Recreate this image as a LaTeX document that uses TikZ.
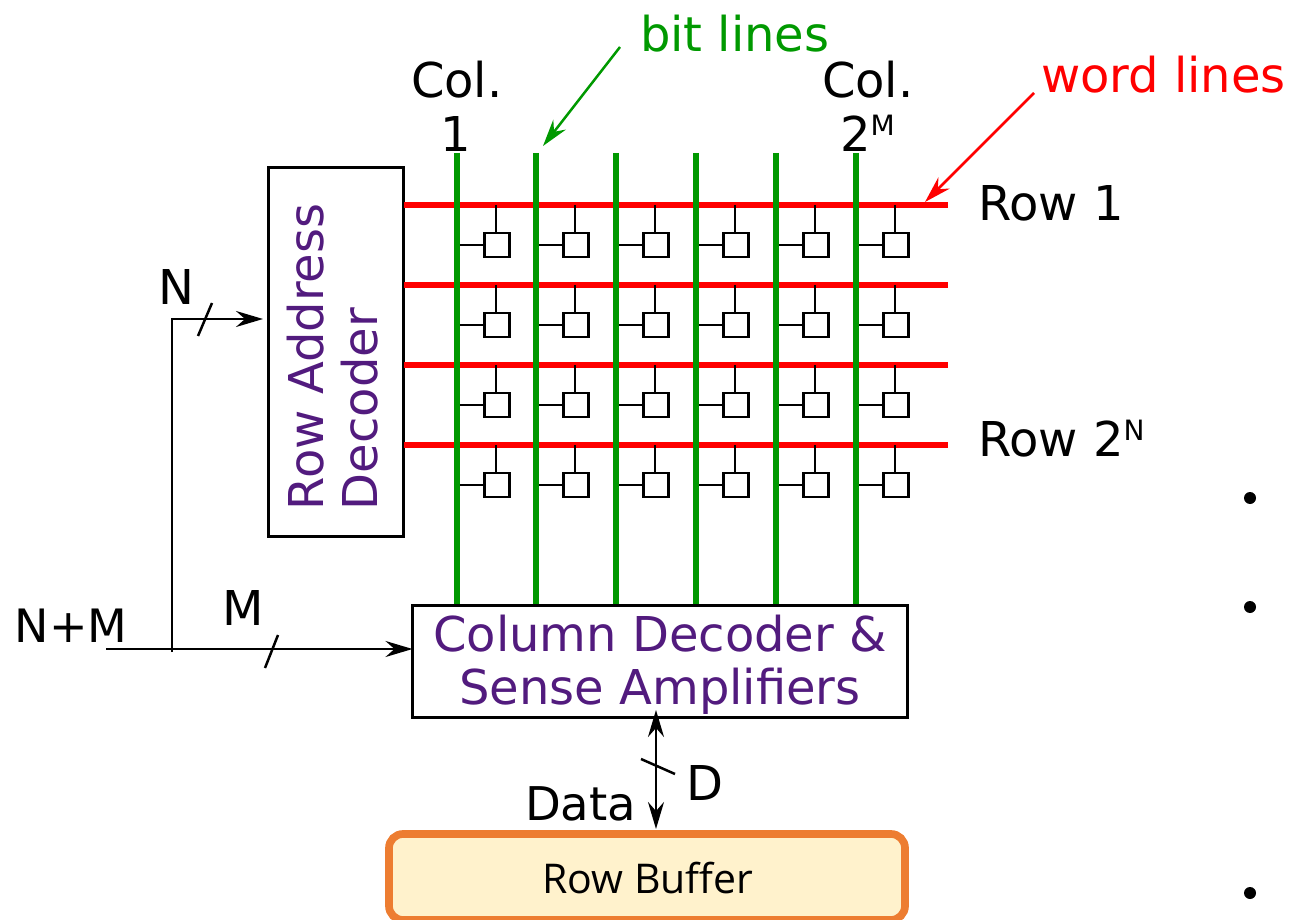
\documentclass[tikz,border=0pt]{standalone}
\usepackage{fontspec}
\setmainfont{DejaVu Sans}
\newfontfamily\rbfont{Open Sans}
\usetikzlibrary{arrows.meta}
\definecolor{bitgreen}{HTML}{009900}
\definecolor{wordred}{HTML}{FF0000}
\definecolor{decpurple}{HTML}{521B7E}
\definecolor{rborange}{HTML}{ED7D31}
\definecolor{rbfill}{HTML}{FFF2CC}
\newcommand{\px}[1]{\fontsize{#1}{#1}\selectfont}
\newcommand{\pxl}[2]{\fontsize{#1}{#2}\selectfont}
\tikzset{
  x=1pt,y=-1pt,
  lbl/.style={inner sep=0pt,outer sep=0pt,anchor=base west,font=\px{48}},
  bitline/.style={draw=bitgreen,line width=6pt},
  wordline/.style={draw=wordred,line width=6pt},
  wire/.style={draw=black,line width=2.5pt},
  tip/.style={-{Stealth[length=27pt,width=16pt,inset=9pt]}},
  bothtip/.style={{Stealth[length=27pt,width=16pt,inset=9pt]}-{Stealth[length=27pt,width=16pt,inset=9pt]}},
  cell/.style={draw=black,line width=2.5pt,fill=white,minimum width=25pt,minimum height=24pt,inner sep=0pt,outer sep=0pt},
  decbox/.style={draw=black,line width=2.5pt,fill=white,inner sep=0pt,outer sep=0pt},
  dectext/.style={inner sep=0pt,outer sep=0pt,text=decpurple},
  bulletdot/.style={circle,fill=black,minimum size=12pt,inner sep=0pt}
}
\begin{document}
\begin{tikzpicture}
\useasboundingbox (0,0) rectangle (1294,920);
% row buffer (bottom stroke cut by the page edge)
\begin{scope}
\clip (0,0) rectangle (1294,920);
\node[draw=rborange,fill=rbfill,line width=7.7pt,rounded corners=14pt,minimum width=516pt,minimum height=86pt,inner sep=0pt,outer sep=0pt] (rb) at (647,877) {};
\end{scope}
\node[inner sep=0pt,anchor=base,font=\rbfont\px{41}] (rbt) at (648,893) {Row Buffer};
% decoders
\node[decbox,minimum width=135pt,minimum height=369pt] (rowdec) at (336,352) {};
\node[dectext,rotate=90,anchor=north west,align=left,font=\pxl{48}{54}] (rowdect) at (287,510) {Row Address\\Decoder};
\node[decbox,minimum width=495pt,minimum height=112pt] (coldec) at (660,661.5) {};
\node[dectext,align=center,font=\pxl{48}{53}] (coldect) at (660,665) {Column Decoder \&\\Sense Amplifiers};
% word lines and bit lines
\foreach \r/\y in {1/205,2/285,3/365,4/445}{
  \coordinate (rowL\r) at (404,\y);
  \coordinate (rowR\r) at (948,\y);
  \draw[wordline] (rowL\r) -- (rowR\r);
}
\foreach \c/\x in {1/457,2/536,3/616,4/696,5/776,6/856}{
  \coordinate (colT\c) at (\x,153);
  \coordinate (colB\c) at (\x,604);
  \draw[bitline] (colT\c) -- (colB\c);
}
% cells
\foreach \r/\y in {1/205,2/285,3/365,4/445}{
  \foreach \c/\x/\cx in {1/457/497,2/536/576,3/616/656,4/696/736,5/776/816,6/856/896}{
    \node[cell] (cell\r\c) at (\cx,\y+40) {};
    \coordinate (tap\r\c) at (\cx-1,\y);
    \coordinate (bit\r\c) at (\x+3,\y+40);
    \draw[wire] (tap\r\c) -- (tap\r\c |- cell\r\c.north);
    \draw[wire] (bit\r\c) -- (cell\r\c.west);
  }
}
% labels
\node[lbl,text=bitgreen] (bitlbl) at (640,52) {bit lines};
\node[lbl,text=wordred] (wordlbl) at (1041,93) {word lines};
\node[lbl] (col1a) at (411,98) {Col.};
\node[lbl,anchor=base] (col1b) at (456,152) {1};
\node[lbl] (col2a) at (822,98) {Col.};
\node[lbl] (col2b) at (840,152) {2\raisebox{16pt}{\px{28}M}};
\node[lbl] (row1) at (978,221) {Row 1};
\node[lbl] (row2) at (978,456) {Row 2\raisebox{16pt}{\px{28}N}};
\node[lbl] (nlbl) at (158,305) {N};
\node[lbl,font=\px{46}] (nmlbl) at (15,642) {N+M};
\node[lbl] (mlbl) at (222,625) {M};
\node[lbl,font=\px{46.5}] (datalbl) at (525,820) {Data};
\node[lbl] (dlbl) at (686,800) {D};
% callouts
\coordinate (bitfrom) at (620,47);
\coordinate (bitto) at (543,146);
\draw[draw=bitgreen,line width=2.5pt,tip] (bitfrom) -- (bitto);
\coordinate (wordfrom) at (1034,93);
\coordinate (wordto) at (925,202);
\draw[draw=wordred,line width=2.5pt,tip] (wordfrom) -- (wordto);
% address wires
\coordinate (inM) at (106,649);
\coordinate (branch) at (172,652);
\coordinate (nto) at (263,319);
\draw[wire,tip] (inM) -- (inM -| coldec.west);
\draw[wire,tip] (branch) -- (branch |- nto) -- (nto);
\coordinate (sn1) at (198,336); \coordinate (sn2) at (212,303);
\draw[wire] (sn1) -- (sn2);
\coordinate (sm1) at (265,668); \coordinate (sm2) at (278,635);
\draw[wire] (sm1) -- (sm2);
% data wire
\coordinate (dtop) at (656,710);
\coordinate (dbot) at (656,829);
\draw[wire,bothtip] (dtop) -- (dbot);
\coordinate (sd1) at (641,759); \coordinate (sd2) at (675,774);
\draw[wire] (sd1) -- (sd2);
% stray bullets
\node[bulletdot] (b1) at (1250,498) {};
\node[bulletdot] (b2) at (1250,607) {};
\node[bulletdot] (b3) at (1250,893) {};
\end{tikzpicture}
\end{document}
